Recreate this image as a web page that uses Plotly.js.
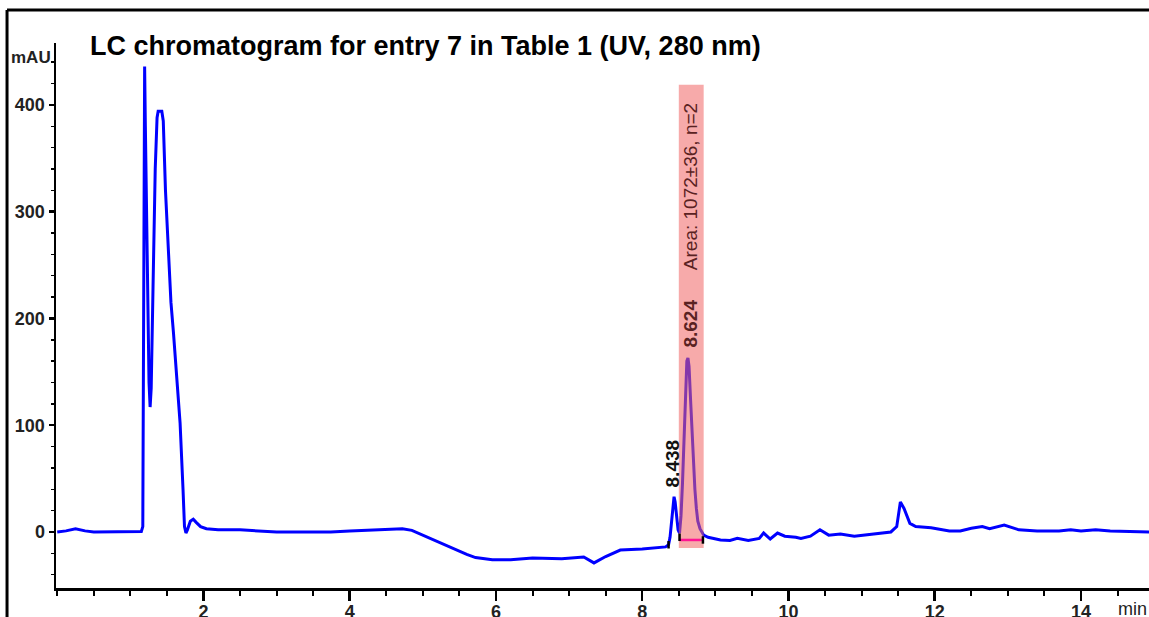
<!DOCTYPE html>
<html>
<head>
<meta charset="utf-8">
<script src="https://cdn.plot.ly/plotly-3.0.1.min.js"></script>
<style>html,body{margin:0;padding:0;background:#fff;}#chart{width:1149px;height:617px;}</style>
</head>
<body>
<div id="chart"></div>
<script>
// ---- data ----
const timeMin = [0.00,0.12,0.25,0.38,0.50,0.80,1.00,1.15,1.17,1.185,1.195,1.205,1.23,1.255,1.27,1.285,1.31,1.34,1.365,1.38,1.43,1.45,1.48,1.52,1.555,1.59,1.63,1.68,1.72,1.74,1.76,1.78,1.82,1.86,1.90,1.96,2.04,2.2,2.5,2.8,3.0,3.5,3.74,4.0,4.3,4.56,4.72,4.85,5.0,5.15,5.3,5.45,5.6,5.72,5.85,5.95,6.2,6.5,6.9,7.2,7.34,7.5,7.7,8.0,8.32,8.36,8.38,8.40,8.42,8.435,8.45,8.47,8.49,8.51,8.53,8.55,8.57,8.59,8.61,8.625,8.64,8.66,8.68,8.70,8.72,8.74,8.76,8.79,8.84,8.9,9.07,9.2,9.3,9.45,9.6,9.66,9.75,9.85,9.95,10.1,10.17,10.3,10.43,10.55,10.71,10.9,11.2,11.4,11.48,11.53,11.58,11.66,11.74,11.95,12.2,12.35,12.5,12.65,12.75,12.95,13.15,13.4,13.7,13.86,14.0,14.2,14.4,14.93];
const absorbance = [0,1,3,1,0,0,0,0.5,5,300,436,380,250,140,117,135,230,340,388,394,394,385,320,264,215,186,150,102,40,5,-1,2,10,12,9,5,3,2,2,1,0,0,0,1,2,3,3,1.5,-3,-8,-12,-17,-21,-24,-25.5,-26,-26,-24.5,-25,-23.5,-29,-23,-17,-16,-14,-12,-5,10,28,33,28,12,2,-1,15,45,90,135,160,163,155,125,95,65,40,22,10,3,-3,-5,-7.5,-8,-6,-8,-6,-1,-6.6,-1,-4,-5,-6,-4,2,-3,-2,-4,-2,0,5,28,22,8,5,4,1,1,3.5,5,3,6.5,2,1,1,2,1,2,1,0];

const xTickVals = [2,4,6,8,10,12,14];
const xTickText = ["2","4","6","8","10","12","14"];
const yTickVals = [0,100,200,300,400];
const yTickText = ["0","100","200","300","400"];

const peakLabels = ["8.438","8.624"];
const peakLabelX = [8.41,8.655];
const peakLabelY = [40,171];
const areaText = "Area: 1072±36, n=2";
const areaTextX = 8.655;
const areaTextY = 243;

const integrationWindow = [8.50, 8.84];
const windowYRange = [-15, 419];
const baselineX = [8.51, 8.83];
const baselineY = [-7.5, -7.5];
const markerX = [8.36, 8.51, 8.83];
const markerY = [-12, -5, -7.5];

const titleText = "LC chromatogram for entry 7 in Table 1 (UV, 280 nm)";

// ---- figure ----
const FONT = "Liberation Sans, Arial, sans-serif";
const shapes = [
  {type:'rect', xref:'x', yref:'y', x0:integrationWindow[0], x1:integrationWindow[1], y0:windowYRange[0], y1:windowYRange[1],
   fillcolor:'rgba(240,100,100,0.55)', line:{width:0}, layer:'above'},
  {type:'line', xref:'x', yref:'y', x0:baselineX[0], x1:baselineX[1], y0:baselineY[0], y1:baselineY[1],
   line:{color:'#ff1493', width:2.5}, layer:'above'},
  // outer frame
  {type:'line', xref:'paper', yref:'paper', x0:-0.0448, x1:1.0, y0:1.0606, y1:1.0606, line:{color:'black', width:3}},
  {type:'line', xref:'paper', yref:'paper', x0:-0.0448, x1:-0.0448, y0:1.0606, y1:-0.06, line:{color:'black', width:3}}
];
markerX.forEach((mx,i)=>{
  shapes.push({type:'line', xref:'x', yref:'y', x0:mx, x1:mx, y0:markerY[i]-3.5, y1:markerY[i]+3.5, line:{color:'black', width:2.5}, layer:'above'});
});

const annotations = [
  {xref:'paper', yref:'paper', x:0.0293, y:0.9945, xanchor:'left', yanchor:'middle', showarrow:false,
   text:titleText, font:{family:FONT, size:27, color:'black', weight:'bold'}},
  {xref:'paper', yref:'paper', x:-0.0027, y:0.974, xanchor:'right', yanchor:'middle', showarrow:false,
   text:'mAU', font:{family:FONT, size:17, color:'#222', weight:'bold'}},
  {xref:'paper', yref:'paper', x:1.0, y:-0.038, xanchor:'right', yanchor:'middle', showarrow:false,
   text:'min', font:{family:FONT, size:18, color:'#222'}},
  {xref:'x', yref:'y', x:peakLabelX[0], y:peakLabelY[0], xanchor:'center', yanchor:'bottom', textangle:-90, showarrow:false,
   text:peakLabels[0], font:{family:FONT, size:19, color:'#111', weight:'bold'}},
  {xref:'x', yref:'y', x:peakLabelX[1], y:peakLabelY[1], xanchor:'center', yanchor:'bottom', textangle:-90, showarrow:false,
   text:peakLabels[1], font:{family:FONT, size:19, color:'#5a2222', weight:'bold'}},
  {xref:'x', yref:'y', x:areaTextX, y:areaTextY, xanchor:'center', yanchor:'bottom', textangle:-90, showarrow:false,
   text:areaText, font:{family:FONT, size:19, color:'#5a2222'}}
];

const traces = [
  {x:timeMin, y:absorbance, type:'scatter', mode:'lines', line:{color:'#0000ff', width:3}, hoverinfo:'skip', cliponaxis:true}
];

const layout = {
  width:1149, height:617,
  margin:{l:56, r:0, t:43, b:29},
  paper_bgcolor:'white', plot_bgcolor:'white',
  showlegend:false,
  hovermode:false,
  xaxis:{range:[-0.017,14.93], showline:true, linecolor:'black', linewidth:2.5, showgrid:false, zeroline:false,
    tickmode:'array', tickvals:xTickVals, ticktext:xTickText, ticks:'outside', ticklen:10, tickwidth:2.5, tickcolor:'black',
    ticklabelstandoff:-4,
    minor:{dtick:0.5, ticks:'outside', ticklen:5, tickwidth:2, tickcolor:'black', showgrid:false},
    tickfont:{family:FONT, size:18, color:'#222', weight:'bold'}},
  yaxis:{range:[-52.5,458], showline:true, linecolor:'black', linewidth:2.5, showgrid:false, zeroline:false,
    tickmode:'array', tickvals:yTickVals, ticktext:yTickText, ticks:'outside', ticklen:5, tickwidth:2.5, tickcolor:'black',
    minor:{dtick:20, ticks:'outside', ticklen:3, tickwidth:1.5, tickcolor:'black', showgrid:false},
    tickfont:{family:FONT, size:18, color:'#222', weight:'bold'}},
  shapes:shapes,
  annotations:annotations
};

Plotly.newPlot('chart', traces, layout, {displayModeBar:false, staticPlot:true});
</script>
</body>
</html>
